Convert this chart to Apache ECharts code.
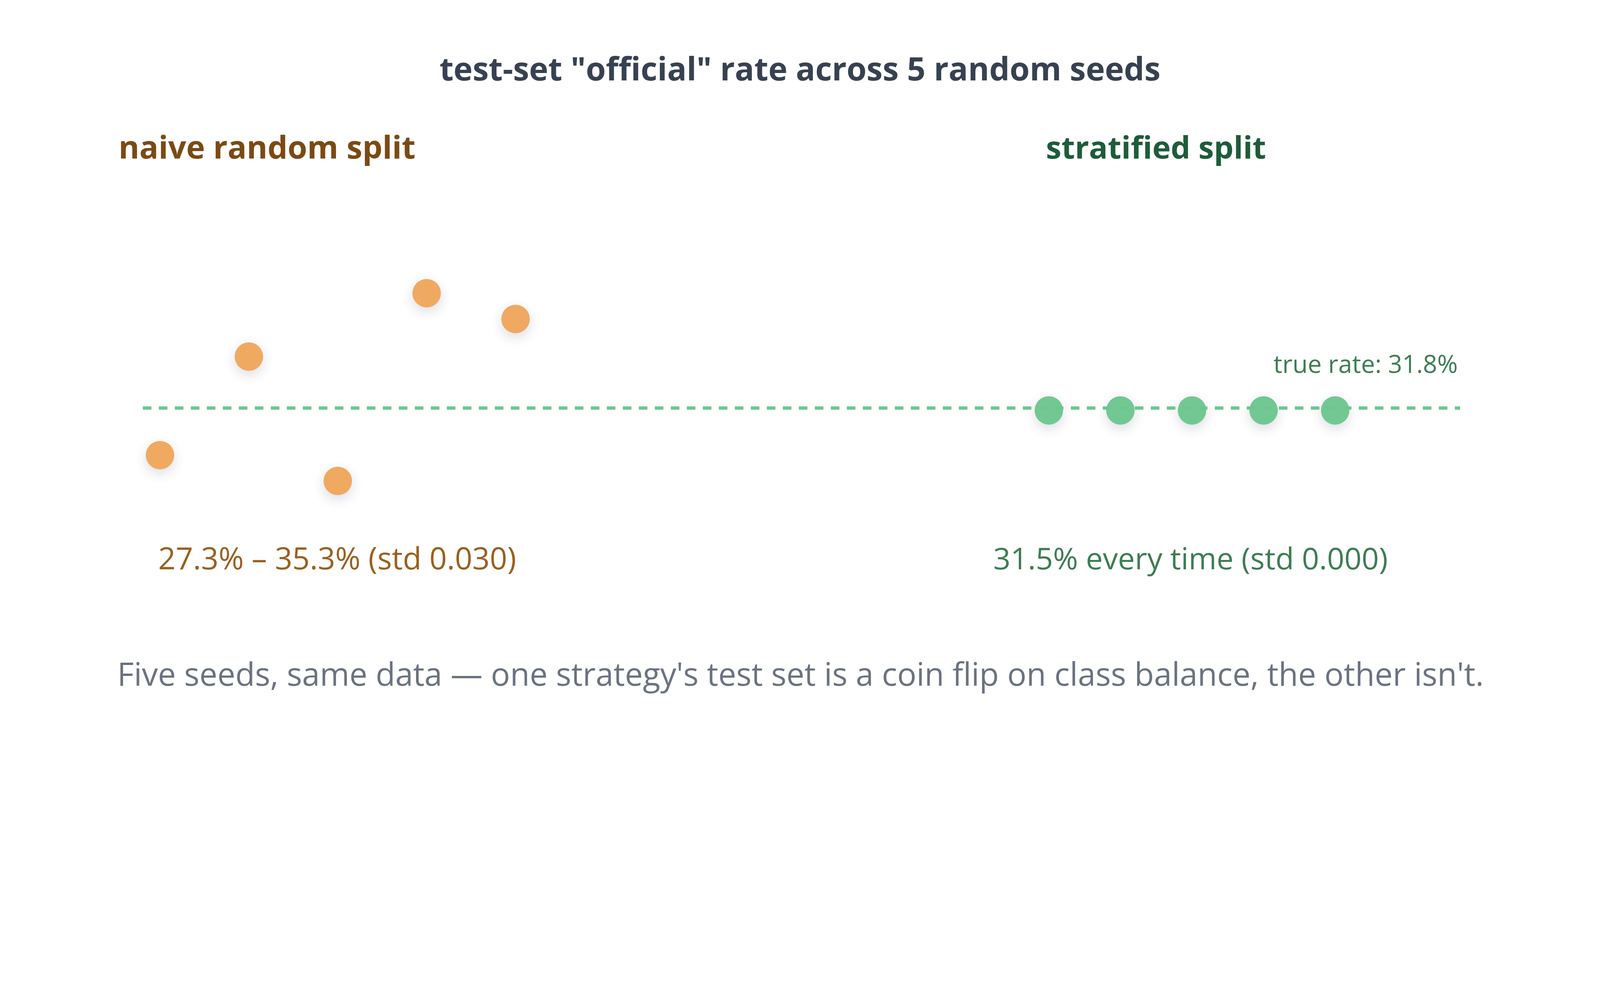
<!DOCTYPE html>
<html>
<head>
<meta charset="utf-8">
<script src="https://cdn.jsdelivr.net/npm/echarts@6/dist/echarts.min.js"></script>
<style>
html,body{margin:0;padding:0;background:#fff;overflow:hidden;}
#chart{width:100vw;height:100vh;}
</style>
</head>
<body>
<div id="chart"></div>
<script>
var seeds = ['seed 1', 'seed 2', 'seed 3', 'seed 4', 'seed 5'];
var naiveRates = [28.4, 32.6, 27.3, 35.3, 34.2];
var stratRates = [31.5, 31.5, 31.5, 31.5, 31.5];
var trueRate = 31.8;

var titleText = 'test-set "official" rate across 5 random seeds';
var naiveHead = 'naive random split';
var stratHead = 'stratified split';
var naiveNote = '27.3% \u2013 35.3% (std 0.030)';
var stratNote = '31.5% every time (std 0.000)';
var footText = "Five seeds, same data \u2014 one strategy's test set is a coin flip on class balance, the other isn't.";

var font = '"Open Sans", "Noto Sans", sans-serif';
var dom = document.getElementById('chart');
var myChart = echarts.init(dom);
// layout was measured on a 5400 px wide picture, scale it to whatever the page really is
var s = dom.clientWidth / 5400;
function px(v) { return v * s; }

var dotShadow = {
    opacity: 1,
    shadowBlur: px(40),
    shadowOffsetY: px(14),
    shadowColor: 'rgba(40,40,90,0.16)'
};

function txt(text, x, y, size, weight, color, align) {
    return {
        type: 'text',
        x: px(x), y: px(y),
        style: {
            text: text,
            font: weight + ' ' + px(size) + 'px ' + font,
            fill: color,
            align: align,
            verticalAlign: 'middle'
        }
    };
}

var option = {
    backgroundColor: '#ffffff',
    animation: false,
    grid: [
        {left: px(390), width: px(1500), top: px(776), height: px(1030)},
        {left: px(3419), width: px(1208), top: px(776), height: px(1030)},
        {left: px(482), width: px(4446), top: px(776), height: px(1030)}
    ],
    xAxis: [
        {type: 'category', gridIndex: 0, data: seeds, show: false},
        {type: 'category', gridIndex: 1, data: seeds, show: false},
        {type: 'value', gridIndex: 2, min: 0, max: 1, show: false}
    ],
    yAxis: [
        {type: 'value', gridIndex: 0, min: 25, max: 38, show: false},
        {type: 'value', gridIndex: 1, min: 15.75, max: 54.35, show: false},
        {type: 'value', gridIndex: 2, min: 15.75, max: 54.35, show: false}
    ],
    series: [
        {
            name: 'naive',
            type: 'scatter',
            xAxisIndex: 0, yAxisIndex: 0,
            symbolSize: px(96),
            itemStyle: Object.assign({color: '#F0A960'}, dotShadow),
            data: naiveRates,
            z: 3
        },
        {
            name: 'stratified',
            type: 'scatter',
            xAxisIndex: 1, yAxisIndex: 1,
            symbolSize: px(96),
            itemStyle: Object.assign({color: '#72C892'}, dotShadow),
            data: stratRates,
            z: 3
        },
        {
            name: 'true rate',
            type: 'line',
            xAxisIndex: 2, yAxisIndex: 2,
            data: [],
            z: 2,
            markLine: {
                silent: true,
                symbol: ['none', 'none'],
                lineStyle: {color: '#6CC68E', width: px(11), type: [px(29), px(25)]},
                label: {
                    position: 'insideEndTop',
                    distance: [px(8), px(100)],
                    formatter: 'true rate: ' + trueRate + '%',
                    color: '#3D7D52',
                    fontFamily: font,
                    fontSize: px(84)
                },
                data: [{yAxis: trueRate}]
            }
        }
    ],
    graphic: [
        txt(titleText, 2700, 240, 109, 'bold', '#374151', 'center'),
        txt(naiveHead, 400, 505, 107, 'bold', '#7B4A14', 'left'),
        txt(stratHead, 3530, 505, 105, 'bold', '#1E5C3A', 'left'),
        txt(naiveNote, 1138, 1893, 103, 'normal', '#9A6020', 'center'),
        txt(stratNote, 4018, 1893, 102, 'normal', '#3D7D52', 'center'),
        txt(footText, 396, 2284, 108, 'normal', '#6B7280', 'left')
    ]
};
myChart.setOption(option);
</script>
</body>
</html>
